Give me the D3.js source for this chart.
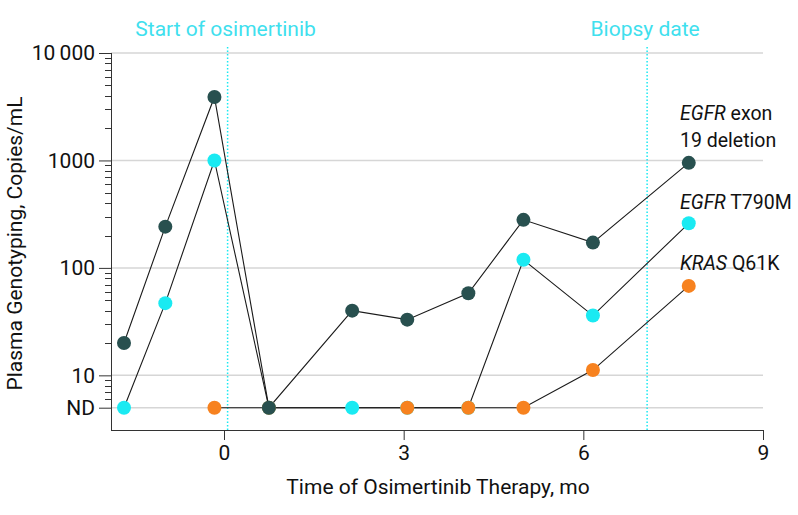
<!DOCTYPE html>
<html>
<head>
<meta charset="utf-8">
<script src="https://cdn.jsdelivr.net/npm/d3@7"></script>
<style>
  html, body { margin: 0; padding: 0; background: #fff; }
  svg { display: block; font-family: Roboto, "Open Sans", sans-serif; }
</style>
</head>
<body>
<svg id="chart" width="798" height="515"></svg>
<script>
// ---- data ----
const ND = 5; // not detected
const exon19Times  = [-1.67, -0.98, -0.16, 0.75, 2.14, 3.06, 4.08, 5.0, 6.16, 7.76];
const exon19Values = [20, 242, 3900, ND, 40, 33, 58, 280, 172, 950];
const t790mTimes   = [-1.67, -0.98, -0.16, 0.75, 2.14, 3.06, 4.08, 5.0, 6.16, 7.76];
const t790mValues  = [ND, 47, 1000, ND, ND, ND, ND, 119, 36, 260];
const krasTimes    = [-0.16, 0.75, 3.06, 4.08, 5.0, 6.16, 7.76];
const krasValues   = [ND, ND, ND, ND, ND, 11.2, 68];
const seriesNames  = ["EGFR exon 19 deletion", "EGFR T790M", "KRAS Q61K"];
const xTicks = [0, 3, 6, 9];
const yMajorTicks = [ND, 10, 100, 1000, 10000];
const yMajorLabels = ["ND", "10", "100", "1000", "10\u2009000"];
const eventTimes = [0.06, 7.065];
const eventLabels = ["Start of osimertinib", "Biopsy date"];

// ---- layout ----
const FS = 21;
const colors = { dark: "#28504f", cyan: "#1aeaf2", orange: "#f7821f", label: "#3fe0ee" };
const svg = d3.select("#chart");
const L = 111, R = 763, T = 53, B = 430;

const x = d3.scaleLinear().domain([-1.887, 9]).range([L, R]);
const y = d3.scaleLog().domain([3.1, 10000]).range([B, T]);

// gridlines
svg.append("g").selectAll("line").data(yMajorTicks).join("line")
  .attr("x1", L).attr("x2", R)
  .attr("y1", d => y(d)).attr("y2", d => y(d))
  .attr("stroke", "#d6d6d6").attr("stroke-width", 1.5);

// minor ticks
const minor = [];
for (let dec = 10; dec <= 1000; dec *= 10) for (let m = 2; m <= 9; m++) minor.push(m * dec);
[6, 7, 8, 9].forEach(v => minor.push(v));
svg.append("g").selectAll("line").data(minor).join("line")
  .attr("x1", L - 6).attr("x2", L)
  .attr("y1", d => Math.round(y(d)) + 0.5).attr("y2", d => Math.round(y(d)) + 0.5)
  .attr("stroke", "#333").attr("stroke-width", 1);

// y axis
const yAxis = d3.axisLeft(y).tickValues(yMajorTicks)
  .tickFormat((d, i) => yMajorLabels[i]).tickSize(12).tickPadding(4).tickSizeOuter(0);
const gy = svg.append("g").attr("transform", `translate(${L},0)`).call(yAxis);
gy.select(".domain").attr("d", `M0.5,${T}V${B}`).attr("stroke", "#333");
gy.selectAll(".tick line").attr("stroke", "#333");
gy.selectAll(".tick text").attr("font-size", FS).attr("fill", "#111").attr("font-family", "Roboto");

// x axis
const xAxis = d3.axisBottom(x).tickValues(xTicks).tickSize(10).tickPadding(5).tickSizeOuter(0);
const gx = svg.append("g").attr("transform", `translate(0,${B})`).call(xAxis);
gx.select(".domain").attr("d", `M${L},0.5H${R}`).attr("stroke", "#333");
gx.selectAll(".tick line").attr("stroke", "#333");
gx.selectAll(".tick text").attr("font-size", FS).attr("fill", "#111").attr("font-family", "Roboto");

// axis titles
svg.append("text").attr("x", 438).attr("y", 494)
  .attr("text-anchor", "middle").attr("font-size", FS).attr("fill", "#111")
  .text("Time of Osimertinib Therapy, mo");
svg.append("text").attr("transform", `translate(22,${(T + B) / 2 + 2}) rotate(-90)`)
  .attr("text-anchor", "middle").attr("font-size", FS).attr("fill", "#111")
  .text("Plasma Genotyping, Copies/mL");

// event lines
eventTimes.forEach((t, i) => {
  svg.append("line").attr("x1", x(t)).attr("x2", x(t)).attr("y1", 47).attr("y2", B)
    .attr("stroke", colors.cyan).attr("stroke-width", 1.5).attr("stroke-dasharray", "1.5,2");
  svg.append("text").attr("x", x(t) - 2).attr("y", 36).attr("text-anchor", "middle")
    .attr("font-size", FS).attr("fill", colors.label).text(eventLabels[i]);
});

// series
const series = [
  { t: exon19Times, v: exon19Values, c: colors.dark },
  { t: t790mTimes, v: t790mValues, c: colors.cyan },
  { t: krasTimes, v: krasValues, c: colors.orange }
];
const line = d3.line().x(d => x(d[0])).y(d => y(d[1]));
series.forEach(s => {
  svg.append("path").datum(s.t.map((t, i) => [t, s.v[i]]))
    .attr("d", line).attr("fill", "none").attr("stroke", "#1a1a1a").attr("stroke-width", 1.1);
});
[series[1], series[2], series[0]].forEach(s => {
  svg.append("g").selectAll("circle").data(s.t.map((t, i) => [t, s.v[i]])).join("circle")
    .attr("cx", d => x(d[0])).attr("cy", d => y(d[1])).attr("r", 7).attr("fill", s.c);
});

// series labels
const lab = svg.append("g").attr("font-size", 19.5).attr("fill", "#111");
function seriesLabel(yy, gene, rest) {
  const t = lab.append("text").attr("x", 680).attr("y", yy);
  t.append("tspan").attr("font-style", "italic").text(gene);
  t.append("tspan").text(" " + rest);
  return t;
}
seriesLabel(120, "EGFR", "exon");
lab.append("text").attr("x", 680).attr("y", 147).text("19 deletion");
seriesLabel(209, "EGFR", "T790M");
seriesLabel(270, "KRAS", "Q61K");
</script>
</body>
</html>
